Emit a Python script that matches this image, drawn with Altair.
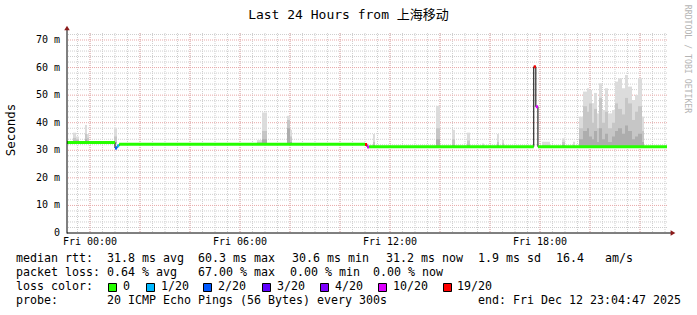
import altair as alt
import pandas as pd

MONO = "DejaVu Sans Mono"
TITLE_FONT = "DejaVu Sans Mono, Noto Sans CJK SC"

# ---------------- data ----------------
T0 = -(55 * 60 + 13) / 3600.0   # Thu 23:04:47 relative to Fri 00:00 (hours)
T1 = T0 + 24.0
YMAX = 72.54

# median rtt segments (hours, ms) and loss class
med_start = [T0, 1.00, 1.0833, 1.1667, 11.0, 11.0833, 11.1667, 17.75, 17.8333, 17.9167]
med_end = [1.00, 1.0833, 1.1667, 11.0, 11.0833, 11.1667, 17.75, 17.8333, 17.9167, T1]
med_value = [32.8, 30.8, 31.6, 32.2, 32.1, 31.2, 31.3, 60.3, 45.8, 31.3]
med_loss = ["0", "2/20", "1/20", "0", "19/20", "10/20", "0", "19/20", "10/20", "0"]

loss_labels = ["0", "1/20", "2/20", "3/20", "4/20", "10/20", "19/20"]
loss_colors = ["#26ff00", "#00b8ff", "#0059ff", "#5e00ff", "#7e00ff", "#dd00ff", "#ff0000"]

# smoke (ping spread) per interval: start, end, base, light top, mid top, dark top
smoke_t0 = [-0.68, -0.56, -0.20, -0.12, 0.96,
            6.68, 6.88, 7.88, 8.00,
            11.32, 13.84, 14.48, 15.08, 15.68, 16.28, 16.48, 18.08, 18.88, 19.32,
            19.56, 19.72, 19.88, 19.96, 20.08, 20.16, 20.28, 20.36, 20.48, 20.60, 20.72,
            20.88, 21.00, 21.12, 21.28, 21.40, 21.52, 21.68, 21.80, 21.92, 22.08]
smoke_t1 = [-0.56, -0.44, -0.12, -0.04, 1.08,
            6.88, 7.08, 8.00, 8.08,
            11.40, 14.00, 14.60, 15.20, 15.76, 16.36, 16.56, 18.40, 19.00, 19.40,
            19.72, 19.88, 19.96, 20.08, 20.16, 20.28, 20.36, 20.48, 20.60, 20.72, 20.88,
            21.00, 21.12, 21.28, 21.40, 21.52, 21.68, 21.80, 21.92, 22.08, 22.16]
smoke_base = [32.5, 32.5, 32.5, 32.5, 32.5,
              32.0, 32.0, 32.0, 32.0,
              31.0, 31.0, 31.0, 31.0, 31.0, 31.0, 31.0, 31.0, 31.0, 31.0,
              31.0, 31.0, 31.0, 31.0, 31.0, 31.0, 31.0, 31.0, 31.0, 31.0, 31.0,
              31.0, 31.0, 31.0, 31.0, 31.0, 31.0, 31.0, 31.0, 31.0, 31.0]
smoke_light = [36.4, 35.0, 39.2, 35.9, 38.0,
               33.7, 43.7, 42.5, 37.4,
               35.9, 46.1, 37.4, 36.4, 32.5, 35.9, 33.7, 33.1, 34.3, 33.1,
               42.2, 51.3, 52.5, 51.9, 47.1, 50.8, 43.4, 54.3, 44.6, 52.5, 43.4,
               44.6, 54.9, 56.1, 52.5, 57.3, 53.1, 48.2, 50.1, 56.1, 42.2]
smoke_mid = [34.5, 34.0, 36.0, 34.5, 35.0,
             33.0, 37.0, 41.0, 35.0,
             33.0, 38.0, 34.0, 33.5, 32.0, 33.0, 32.5, 32.0, 33.0, 32.0,
             38.0, 46.0, 44.0, 47.0, 40.0, 45.0, 38.0, 49.0, 40.0, 44.0, 38.0,
             40.0, 47.0, 45.0, 43.0, 49.0, 47.0, 41.0, 44.0, 46.0, 37.0]
smoke_dark = [33.5, 33.5, 34.0, 33.0, 33.0,
              32.0, 34.0, 38.0, 33.0,
              32.0, 34.0, 32.0, 32.0, 31.0, 32.0, 31.0, 31.0, 32.0, 31.0,
              34.0, 37.0, 38.0, 35.0, 34.0, 37.0, 33.0, 38.0, 34.0, 36.0, 33.0,
              35.0, 37.0, 38.0, 36.0, 39.0, 37.0, 34.0, 35.0, 36.0, 33.0]

# grid positions
minor_h = [v / 2.0 for v in range(-1, 47)]            # every 30 min
major_h = [0, 2, 4, 6, 8, 10, 12, 14, 16, 18, 20, 22]  # every 2 h
minor_y = [2, 4, 6, 8, 12, 14, 16, 18, 22, 24, 26, 28, 32, 34, 36, 38,
           42, 44, 46, 48, 52, 54, 56, 58, 62, 64, 66, 68, 72]
major_y = [10, 20, 30, 40, 50, 60, 70]
x_ticks = [0, 6, 12, 18]
x_labels = ["Fri 00:00", "Fri 06:00", "Fri 12:00", "Fri 18:00"]
y_ticks = [0, 10, 20, 30, 40, 50, 60, 70]
y_labels = ["0\u00a0\u00a0", "10 m", "20 m", "30 m", "40 m", "50 m", "60 m", "70 m"]

# legend texts
row1 = [("median rtt:", 16), ("31.8 ms avg", 107), ("60.3 ms max", 198), ("30.6 ms min", 292),
        ("31.2 ms now", 386), ("1.9 ms sd", 478), ("16.4", 556), ("am/s", 605)]
row2 = [("packet loss:", 16), ("0.64 % avg", 107), ("67.00 % max", 198), ("0.00 % min", 290),
        ("0.00 % now", 373)]
swatch_x = [108, 146, 203, 262, 320, 378, 443]
swatch_label_x = [123, 161, 218, 277, 335, 393, 457]
row4 = [("probe:", 16), ("20 ICMP Echo Pings (56 Bytes) every 300s", 107),
        ("end: Fri Dec 12 23:04:47 2025", 478)]

# ---------------- chart ----------------
L, TOP = 67, 33
xs = alt.Scale(domain=[T0, T1], nice=False, zero=False)
ys = alt.Scale(domain=[0, YMAX], nice=False, zero=False)

smoke = pd.DataFrame({"t0": smoke_t0, "t1": smoke_t1, "base": smoke_base,
                      "light": smoke_light, "mid": smoke_mid, "dark": smoke_dark})
med = pd.DataFrame({"t0": med_start, "t1": med_end, "v": med_value, "loss": med_loss})
step = pd.DataFrame({"t": med_start + [T1], "v": med_value + [med_value[-1]]})

layers = []

# minor grid
layers.append(alt.Chart(pd.DataFrame({"h": minor_h})).mark_rule(
    color="#cfcfcf", strokeWidth=1, strokeDash=[1, 1]).encode(
    x=alt.X("h:Q", scale=xs, axis=None)))
layers.append(alt.Chart(pd.DataFrame({"y": minor_y})).mark_rule(
    color="#cfcfcf", strokeWidth=1, strokeDash=[1, 1]).encode(
    y=alt.Y("y:Q", scale=ys, axis=None)))
# major grid
layers.append(alt.Chart(pd.DataFrame({"h": major_h})).mark_rule(
    color="#e8a8a8", strokeWidth=1, strokeDash=[1, 1]).encode(
    x=alt.X("h:Q", scale=xs, axis=None)))
layers.append(alt.Chart(pd.DataFrame({"y": major_y})).mark_rule(
    color="#e8a8a8", strokeWidth=1, strokeDash=[1, 1]).encode(
    y=alt.Y("y:Q", scale=ys, axis=None)))

# smoke
for col, colr in [("light", "#dcdcdc"), ("mid", "#c6c6c6"), ("dark", "#adadad")]:
    layers.append(alt.Chart(smoke).mark_rect(color=colr).encode(
        x=alt.X("t0:Q", scale=xs, axis=None), x2="t1:Q",
        y=alt.Y("base:Q", scale=ys, axis=None), y2=f"{col}:Q"))

# median: black step outline, then colored loss segments
layers.append(alt.Chart(step).mark_line(interpolate="step-after", color="black", strokeWidth=1).encode(
    x=alt.X("t:Q", scale=xs, axis=None), y=alt.Y("v:Q", scale=ys, axis=None)))
layers.append(alt.Chart(med).mark_rule(strokeWidth=3, strokeCap="butt").encode(
    x=alt.X("t0:Q", scale=xs, axis=None), x2="t1:Q",
    y=alt.Y("v:Q", scale=ys, axis=None),
    color=alt.Color("loss:N", scale=alt.Scale(domain=loss_labels, range=loss_colors), legend=None)))

# axis labels through the scales
layers.append(alt.Chart(pd.DataFrame({"h": x_ticks, "lab": x_labels})).mark_text(
    align="center", baseline="middle", font=MONO, fontSize=10, color="black").encode(
    x=alt.X("h:Q", scale=xs, axis=None), y=alt.value(242 - TOP), text="lab:N"))
layers.append(alt.Chart(pd.DataFrame({"y": y_ticks, "lab": y_labels})).mark_text(
    align="right", baseline="middle", font=MONO, fontSize=10, color="black").encode(
    y=alt.Y("y:Q", scale=ys, axis=None), x=alt.value(-7), text="lab:N"))

one = pd.DataFrame({"d": [0]})

# axes lines and arrows
layers.append(alt.Chart(one).mark_rule(color="black", strokeWidth=1).encode(
    x=alt.value(0), y=alt.value(200.5), y2=alt.value(-4)))
layers.append(alt.Chart(one).mark_rule(color="black", strokeWidth=1).encode(
    x=alt.value(0), x2=alt.value(605), y=alt.value(200)))
layers.append(alt.Chart(one).mark_point(shape="triangle-up", filled=True, color="#8b1a1a",
                                        size=30, opacity=1).encode(
    x=alt.value(0), y=alt.value(-5)))
layers.append(alt.Chart(one).mark_point(shape="triangle-right", filled=True, color="#8b1a1a",
                                        size=30, opacity=1).encode(
    x=alt.value(606), y=alt.value(200)))


def label(txt, px, py, size=11.63, color="black", align="left", angle=0, font=MONO):
    return alt.Chart(one).mark_text(align=align, baseline="middle", font=font, fontSize=size,
                                    color=color, angle=angle).encode(
        x=alt.value(px - L), y=alt.value(py - TOP), text=alt.value(txt))


layers.append(label("Last 24 Hours from 上海移动", 348.5, 15, size=13, align="center", font=TITLE_FONT))
layers.append(label("RRDTOOL / TOBI OETIKER", 687, 59, size=8.2, color="#b4b4b4", align="center", angle=90))
layers.append(label("Seconds", 11, 130, size=12.5, align="center", angle=270))

for txt, px in row1:
    layers.append(label(txt, px, 259))
for txt, px in row2:
    layers.append(label(txt, px, 273))
layers.append(label("loss color:", 16, 287))
for lab, sx, lx, colr in zip(loss_labels, swatch_x, swatch_label_x, loss_colors):
    layers.append(alt.Chart(one).mark_rect(color=colr, stroke="black", strokeWidth=1).encode(
        x=alt.value(sx - L + 0.5), x2=alt.value(sx - L + 8.5),
        y=alt.value(283 - TOP + 0.5), y2=alt.value(283 - TOP + 8.5)))
    layers.append(label(lab, lx, 287))
for txt, px in row4:
    layers.append(label(txt, px, 301))

chart = alt.layer(*layers).properties(
    width=600, height=200,
    padding={"left": L, "top": TOP, "right": 30, "bottom": 82},
    autosize=alt.AutoSizeParams(type="none"),
    background="white",
).configure_view(stroke=None)

chart.save("out.html", embed_options={"renderer": "svg", "actions": False})
